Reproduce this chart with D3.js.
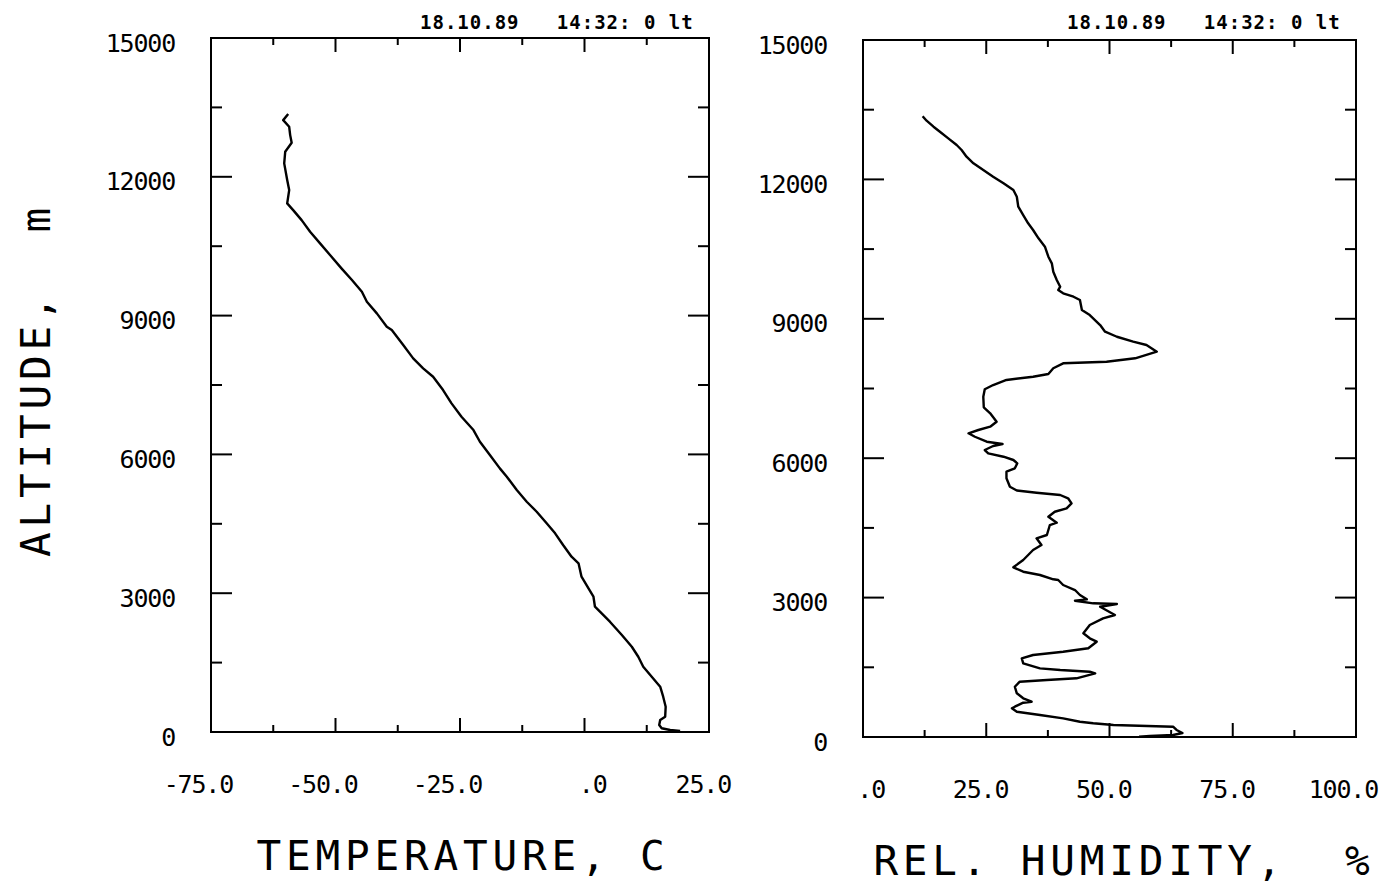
<!DOCTYPE html>
<html>
<head>
<meta charset="utf-8">
<script src="https://cdn.jsdelivr.net/npm/d3@7"></script>
<style>
  html, body { margin: 0; padding: 0; background: #fff; }
  svg { display: block; }
  text { font-family: "DejaVu Sans Mono", monospace; fill: #000; white-space: pre; }
</style>
</head>
<body>
<svg id="chart" width="1395" height="896"></svg>
<script>
// ---------------- data ----------------
const headerText = "18.10.89   14:32: 0 lt";
const altTicks = [0, 3000, 6000, 9000, 12000, 15000];
const altTickLabels = ["0", "3000", "6000", "9000", "12000", "15000"];
const tempTicks = [-75, -50, -25, 0, 25];
const tempTickLabels = ["-75.0", "-50.0", "-25.0", ".0", "25.0"];
const rhTicks = [0, 25, 50, 75, 100];
const rhTickLabels = [".0", "25.0", "50.0", "75.0", "100.0"];

// temperature profile (altitude m, temperature C)
const tempAlt = [13355, 13225, 13081, 12901, 12735, 12540, 12290, 11929, 11713, 11425,
  11280, 11064, 10811, 10561, 10308, 10021, 9768, 9515, 9299, 9048, 8759, 8687, 8363,
  8076, 7860, 7678, 7391, 7103, 6814, 6526, 6273, 5986, 5698, 5517, 5230, 4977, 4761,
  4510, 4294, 4041, 3788, 3646, 3356, 3105, 2924, 2708, 2600, 2384, 2096, 1843, 1627,
  1411, 1195, 979, 763, 547, 331, 259, 151, 80, 43, 22];
const tempVal = [-59.5, -60.5, -59.3, -59.1, -58.8, -60.1, -60.3, -59.7, -59.3, -59.7,
  -58.5, -56.8, -55.1, -53.1, -51.1, -48.8, -46.7, -44.7, -43.7, -41.7, -39.7, -38.7, -36.4,
  -34.4, -32.4, -30.4, -28.4, -26.7, -24.7, -22.3, -21.0, -19.0, -17.0, -15.6, -13.6, -11.6, -9.6,
  -7.6, -5.9, -4.3, -2.6, -1.2, -0.6, 0.8, 1.8, 2.1, 3.1, 5.1, 7.5, 9.5, 10.8,
  11.8, 13.5, 15.2, 15.8, 16.3, 16.2, 15.2, 15.0, 15.5, 17.2, 19.2];

// relative humidity profile (altitude m, RH %)
const rhAlt = [13360, 13263, 13134, 13026, 12884, 12740, 12632, 12488, 12346, 12202,
  12058, 11916, 11771, 11627, 11412, 11233, 11055, 10911, 10732, 10551, 10336, 10194,
  10013, 9835, 9690, 9619, 9548, 9475, 9404, 9189, 9081, 8866, 8722, 8614, 8507, 8436,
  8292, 8150, 8077, 8042, 7935, 7812, 7754, 7683, 7575, 7483, 7323, 7095, 6966, 6785,
  6678, 6607, 6536, 6462, 6355, 6305, 6262, 6176, 6105, 6032, 5961, 5890, 5782, 5709,
  5567, 5386, 5305, 5257, 5208, 5137, 5029, 4922, 4848, 4741, 4612, 4562, 4347, 4276,
  4132, 4024, 3917, 3809, 3652, 3557, 3486, 3394, 3379, 3271, 3163, 3056, 2963, 2933,
  2877, 2862, 2804, 2625, 2554, 2410, 2232, 2124, 2051, 1909, 1836, 1765, 1694, 1586,
  1478, 1442, 1405, 1371, 1263, 1227, 1190, 1082, 940, 833, 760, 738, 652, 618, 544,
  473, 402, 329, 295, 258, 222, 151, 86, 43, 22, 5];
const rhVal = [12.1, 12.9, 14.3, 15.6, 17.3, 19.0, 20.0, 21.0, 22.4, 24.4,
  26.4, 28.5, 30.5, 31.2, 31.5, 32.5, 33.5, 34.5, 35.6, 36.9, 37.6, 38.3,
  38.6, 39.3, 40.0, 39.6, 40.6, 42.7, 44.0, 44.4, 46.0, 48.1, 49.1, 51.5, 54.8, 57.5,
  59.6, 55.2, 49.4, 40.6, 38.6, 37.6, 34.5, 29.1, 26.4, 24.7, 24.4, 24.5, 25.8, 27.1,
  25.8, 23.4, 21.4, 22.7, 25.1, 28.3, 26.4, 24.7, 25.4, 28.5, 30.5, 31.3, 30.8, 29.1,
  29.1, 29.8, 31.2, 35.2, 40.0, 41.6, 42.3, 41.3, 38.9, 37.6, 39.3, 37.9, 37.3, 35.2,
  36.2, 34.5, 33.5, 32.5, 30.5, 32.5, 35.9, 38.6, 39.6, 40.6, 43.0, 44.0, 45.4, 43.0,
  46.7, 51.5, 48.1, 51.1, 48.7, 46.0, 44.7, 46.0, 47.4, 45.7, 40.6, 34.5, 32.2, 32.5,
  35.9, 40.0, 46.0, 47.1, 43.3, 37.3, 31.8, 30.8, 31.2, 32.5, 34.2, 32.5, 30.8, 30.2, 31.2,
  35.9, 40.6, 44.0, 46.7, 50.8, 62.9, 63.6, 64.8, 62.9, 58.2, 56.0];

// ---------------- drawing ----------------
const svg = d3.select("#chart");

function panel(opts) {
  const { left, right, top, bottom, xDomain, xTicks, xLabels, alt, val, header, title, titleX, titleY } = opts;
  const x = d3.scaleLinear().domain(xDomain).range([left, right]);
  const y = d3.scaleLinear().domain([0, 15000]).range([bottom, top]);
  const g = svg.append("g");

  // frame
  g.append("rect").attr("x", left).attr("y", top)
    .attr("width", right - left).attr("height", bottom - top)
    .attr("fill", "none").attr("stroke", "#000").attr("stroke-width", 2);

  // x ticks (every 12.5, major every 25) top and bottom, inward
  const step = (xDomain[1] - xDomain[0]) / 8;
  const xt = d3.range(1, 8).map(i => xDomain[0] + i * step);
  xt.forEach((v, i) => {
    const len = (i % 2 === 1) ? 14 : 7;
    g.append("line").attr("x1", x(v)).attr("x2", x(v)).attr("y1", bottom).attr("y2", bottom - len)
      .attr("stroke", "#000").attr("stroke-width", 2);
    g.append("line").attr("x1", x(v)).attr("x2", x(v)).attr("y1", top).attr("y2", top + len)
      .attr("stroke", "#000").attr("stroke-width", 2);
  });
  // y ticks (every 1500, major every 3000) left and right, inward
  d3.range(1, 10).forEach(i => {
    const v = i * 1500;
    const len = (i % 2 === 0) ? 21 : 11;
    g.append("line").attr("x1", left).attr("x2", left + len).attr("y1", y(v)).attr("y2", y(v))
      .attr("stroke", "#000").attr("stroke-width", 2);
    g.append("line").attr("x1", right).attr("x2", right - len).attr("y1", y(v)).attr("y2", y(v))
      .attr("stroke", "#000").attr("stroke-width", 2);
  });

  // y tick labels
  altTicks.forEach((v, i) => {
    g.append("text").attr("x", left - 36).attr("y", y(v) + 13.5)
      .attr("text-anchor", "end").attr("font-size", 25).attr("letter-spacing", -1.2)
      .text(altTickLabels[i]);
  });
  // x tick labels
  xTicks.forEach((v, i) => {
    g.append("text").attr("x", x(v) + 22).attr("y", bottom + 61)
      .attr("text-anchor", "end").attr("font-size", 25).attr("letter-spacing", -1.2)
      .text(xLabels[i]);
  });

  // header
  g.append("text").attr("x", right - 289).attr("y", 29)
    .attr("font-size", 19).attr("font-weight", "bold").attr("letter-spacing", 1)
    .text(header);

  // title
  g.append("text").attr("x", titleX).attr("y", titleY)
    .attr("text-anchor", "middle").attr("font-size", 41).attr("letter-spacing", 4.8)
    .text(title);

  // profile line
  const pts = alt.map((a, i) => [val[i], a]);
  const line = d3.line().x(d => x(d[0])).y(d => y(d[1]));
  g.append("path").datum(pts).attr("d", line)
    .attr("fill", "none").attr("stroke", "#000").attr("stroke-width", 2.4)
    .attr("stroke-linejoin", "round");
}

panel({
  left: 211, right: 709, top: 38, bottom: 732,
  xDomain: [-75, 25], xTicks: tempTicks, xLabels: tempTickLabels,
  alt: tempAlt, val: tempVal, header: headerText,
  title: "TEMPERATURE, C", titleX: 463, titleY: 870
});
panel({
  left: 863, right: 1356, top: 40, bottom: 737,
  xDomain: [0, 100], xTicks: rhTicks, xLabels: rhTickLabels,
  alt: rhAlt, val: rhVal, header: headerText,
  title: "REL. HUMIDITY,  %", titleX: 1124, titleY: 875
});

// y axis title
svg.append("text").attr("transform", "translate(50,380) rotate(-90)")
  .attr("text-anchor", "middle").attr("font-size", 41).attr("letter-spacing", 4.8)
  .text("ALTITUDE,  m");
</script>
</body>
</html>
